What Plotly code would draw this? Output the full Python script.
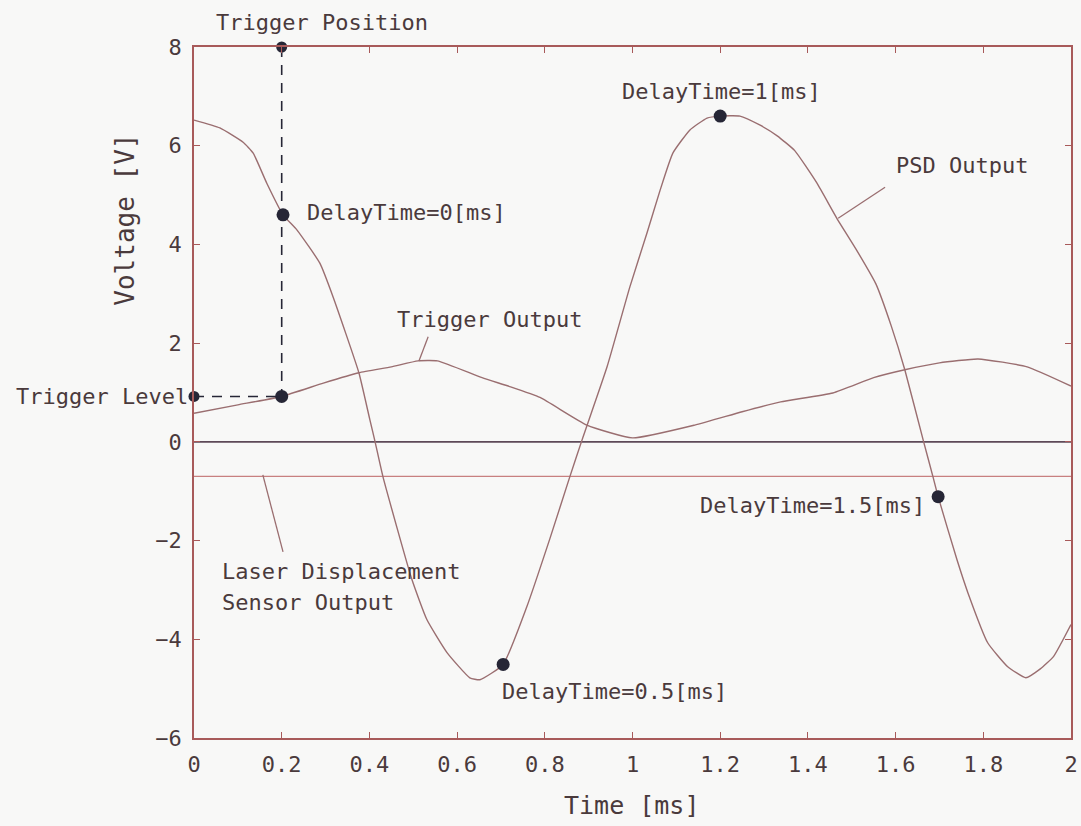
import plotly.graph_objects as go

# ---- data ----
psd_t = [0, 0.059, 0.112, 0.135, 0.166, 0.203, 0.235, 0.287, 0.317, 0.376, 0.401, 0.413, 0.431,
         0.497, 0.531, 0.577, 0.629, 0.652, 0.705, 0.759, 0.812, 0.857, 0.885, 0.942, 0.994,
         1.033, 1.063, 1.092, 1.131, 1.170, 1.20, 1.245, 1.29, 1.33, 1.37, 1.42, 1.466, 1.51,
         1.555, 1.59, 1.621, 1.664, 1.685, 1.697, 1.74, 1.765, 1.81, 1.855, 1.897, 1.93, 1.96, 2.0]
psd_v = [6.52, 6.36, 6.07, 5.85, 5.24, 4.6, 4.29, 3.62, 2.94, 1.40, 0.45, 0.0, -0.71,
         -2.79, -3.60, -4.27, -4.78, -4.82, -4.51, -3.34, -1.95, -0.71, 0.04, 1.52, 3.14,
         4.23, 5.10, 5.85, 6.32, 6.56, 6.6, 6.6, 6.42, 6.2, 5.9, 5.25, 4.53, 3.9,
         3.2, 2.35, 1.46, 0.0, -0.7, -1.11, -2.39, -3.06, -4.07, -4.55, -4.78, -4.6, -4.35, -3.70]

trig_t = [0, 0.1, 0.2, 0.295, 0.376, 0.45, 0.511, 0.555, 0.657, 0.72, 0.789, 0.896, 1.0, 1.142,
          1.25, 1.338, 1.457, 1.55, 1.621, 1.70, 1.788, 1.90, 2.0]
trig_v = [0.58, 0.75, 0.92, 1.19, 1.40, 1.52, 1.64, 1.64, 1.30, 1.12, 0.9, 0.34, 0.08, 0.34,
          0.61, 0.81, 0.99, 1.30, 1.46, 1.60, 1.68, 1.52, 1.13]

laser_level = -0.7
trigger_level = 0.92
trigger_pos = 0.2

delay_t = [0.203, 0.705, 1.20, 1.697]
delay_v = [4.6, -4.51, 6.6, -1.11]

x_ticks = [0, 0.2, 0.4, 0.6, 0.8, 1, 1.2, 1.4, 1.6, 1.8, 2]
x_ticktext = ["0", "0.2", "0.4", "0.6", "0.8", "1", "1.2", "1.4", "1.6", "1.8", "2"]
y_ticks = [-6, -4, -2, 0, 2, 4, 6, 8]

# ---- style ----
FONT = "DejaVu Sans Mono"
TXT = "#4a3a3c"
CURVE = "#9a6e70"
AXIS = "#a85a5a"
ZERO = "#5e4a58"
LASER = "#c88080"
DARK = "#262636"
BG = "#f8f8f7"

fig = go.Figure()

fig.add_trace(go.Scatter(x=[0, 2], y=[0, 0], mode="lines",
                         line=dict(color=ZERO, width=1.6), hoverinfo="skip"))
fig.add_trace(go.Scatter(x=[0, 2], y=[laser_level, laser_level], mode="lines",
                         line=dict(color=LASER, width=1.3), hoverinfo="skip"))
fig.add_trace(go.Scatter(x=trig_t, y=trig_v, mode="lines", line_shape="spline",
                         line=dict(color=CURVE, width=1.4, smoothing=0.45)))
fig.add_trace(go.Scatter(x=psd_t, y=psd_v, mode="lines", line_shape="spline",
                         line=dict(color=CURVE, width=1.4, smoothing=0.45)))

# trigger dashed lines
fig.add_trace(go.Scatter(x=[trigger_pos, trigger_pos], y=[8, trigger_level], mode="lines",
                         line=dict(color=DARK, width=1.6, dash="10px,8px"), cliponaxis=False))
fig.add_trace(go.Scatter(x=[0, trigger_pos], y=[trigger_level, trigger_level], mode="lines",
                         line=dict(color=DARK, width=1.6, dash="10px,8px"), cliponaxis=False))

# markers
fig.add_trace(go.Scatter(x=[trigger_pos, 0], y=[8, trigger_level], mode="markers",
                         marker=dict(color=DARK, size=11, opacity=1), cliponaxis=False))
fig.add_trace(go.Scatter(x=[trigger_pos], y=[trigger_level], mode="markers",
                         marker=dict(color=DARK, size=13, opacity=1), cliponaxis=False))
fig.add_trace(go.Scatter(x=delay_t, y=delay_v, mode="markers",
                         marker=dict(color=DARK, size=13, opacity=1), cliponaxis=False))

# leader lines
leaders = [((1.576, 5.16), (1.469, 4.53)),
           ((0.534, 2.13), (0.513, 1.64)),
           ((0.157, -0.67), (0.203, -2.23))]
for (x0, y0), (x1, y1) in leaders:
    fig.add_shape(type="line", x0=x0, y0=y0, x1=x1, y1=y1, xref="x", yref="y",
                  line=dict(color=CURVE, width=1.3))

def label(text, x, y, xanchor="center", size=22):
    fig.add_annotation(text=text, x=x, y=y, xref="x", yref="y", showarrow=False,
                       xanchor=xanchor, yanchor="middle",
                       font=dict(family=FONT, size=size, color=TXT))

def plabel(text, x, y, xanchor="center", size=22, angle=0):
    fig.add_annotation(text=text, x=x, y=y, xref="paper", yref="paper", showarrow=False,
                       xanchor=xanchor, yanchor="middle", textangle=angle,
                       font=dict(family=FONT, size=size, color=TXT))

plabel("Trigger Position", 0.146, 1.036)
plabel("Trigger Level", -0.004, 0.4935, xanchor="right")
label("DelayTime=0[ms]", 0.253, 4.64, xanchor="left")
label("DelayTime=1[ms]", 1.204, 7.09)
label("DelayTime=0.5[ms]", 0.698, -5.06, xanchor="left")
label("DelayTime=1.5[ms]", 1.672, -1.28, xanchor="right")
label("PSD Output", 1.751, 5.59)
label("Trigger Output", 0.675, 2.47)
label("Laser Displacement", 0.059, -2.63, xanchor="left")
label("Sensor Output", 0.059, -3.26, xanchor="left")

# axis titles
plabel("Voltage [V]", -0.0787, 0.75, size=26, angle=-90)
plabel("Time [ms]", 0.4994, -0.097, size=25)

axis_common = dict(showgrid=False, zeroline=False, showline=True, linecolor=AXIS, linewidth=1.6,
                   mirror="ticks", ticks="inside", ticklen=6, tickcolor=AXIS, tickwidth=1.2,
                   automargin=False, ticklabelstandoff=6,
                   tickfont=dict(family=FONT, size=22, color=TXT))

fig.update_layout(
    width=1081, height=826,
    margin=dict(l=194, r=10, t=47, b=88),
    paper_bgcolor=BG, plot_bgcolor=BG,
    showlegend=False,
    xaxis=dict(range=[0, 2], tickvals=x_ticks, ticktext=x_ticktext, **axis_common),
    yaxis=dict(range=[-6, 8], tickvals=y_ticks, **axis_common),
)

fig.write_html("out.html")
